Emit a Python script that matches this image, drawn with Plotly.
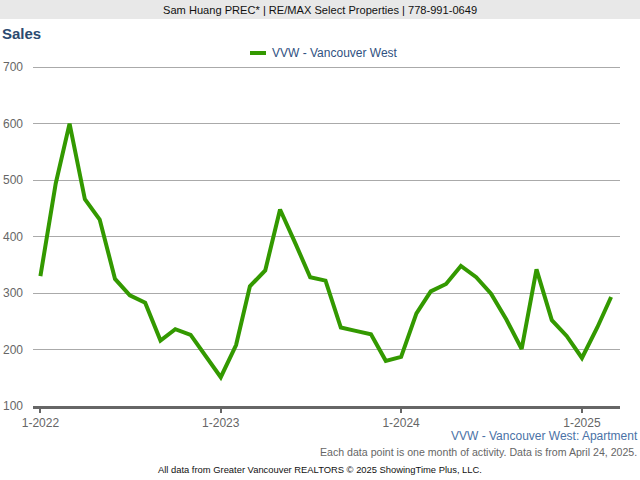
import plotly.graph_objects as go

months = [
    "2022-01-01", "2022-02-01", "2022-03-01", "2022-04-01", "2022-05-01", "2022-06-01",
    "2022-07-01", "2022-08-01", "2022-09-01", "2022-10-01", "2022-11-01", "2022-12-01",
    "2023-01-01", "2023-02-01", "2023-03-01", "2023-04-01", "2023-05-01", "2023-06-01",
    "2023-07-01", "2023-08-01", "2023-09-01", "2023-10-01", "2023-11-01", "2023-12-01",
    "2024-01-01", "2024-02-01", "2024-03-01", "2024-04-01", "2024-05-01", "2024-06-01",
    "2024-07-01", "2024-08-01", "2024-09-01", "2024-10-01", "2024-11-01", "2024-12-01",
    "2025-01-01", "2025-02-01", "2025-03-01",
]
sales = [
    330, 494, 600, 466, 430, 325, 296, 283, 216, 236, 226, 188,
    151, 208, 312, 340, 448, 388, 328, 322, 239, 233, 227, 180,
    187, 264, 303, 316, 348, 328, 299, 253, 201, 342, 252, 224,
    185, 239, 293,
]
series_name = "VVW - Vancouver West"
tick_vals = ["2022-01-01", "2023-01-01", "2024-01-01", "2025-01-01"]
tick_text = ["1-2022", "1-2023", "1-2024", "1-2025"]
y_ticks = [100, 200, 300, 400, 500, 600, 700]

W, H = 640, 480
L, R, T, B = 33, 20, 66, 74
PW, PH = W - L - R, H - T - B

def px(x):
    return (x - L) / PW

def py(y):
    return 1 - (y - T) / PH

FONT = "Liberation Sans, Arial, sans-serif"
GREEN = "#339900"

fig = go.Figure()
fig.add_trace(go.Scatter(
    x=months, y=sales, mode="lines", name=series_name,
    line=dict(color=GREEN, width=4), showlegend=False,
))

fig.update_layout(
    width=W, height=H,
    margin=dict(l=L, r=R, t=T, b=B, pad=0, autoexpand=False),
    paper_bgcolor="white", plot_bgcolor="white",
    font=dict(family=FONT, size=12, color="#666666"),
    xaxis=dict(
        range=["2021-12-17", "2025-03-19"],
        tickvals=tick_vals, ticktext=tick_text,
        showgrid=False, zeroline=False, automargin=False,
        showline=True, linecolor="#666666", linewidth=3,
        ticks="outside", ticklen=4, tickwidth=2, tickcolor="#666666",
        tickfont=dict(family=FONT, size=12, color="#666666"),
        fixedrange=True,
    ),
    yaxis=dict(
        range=[100, 702], tickvals=y_ticks,
        showgrid=True, gridcolor="#aaaaaa", gridwidth=1,
        zeroline=False, showline=False, ticks="", automargin=False,
        ticklabelstandoff=9,
        tickfont=dict(family=FONT, size=12, color="#666666"),
        fixedrange=True,
    ),
    shapes=[
        dict(type="rect", xref="paper", yref="paper",
             x0=px(0), x1=px(W), y0=py(19), y1=py(0),
             fillcolor="#e8e8e8", line=dict(width=0), layer="below"),
        dict(type="line", xref="paper", yref="paper",
             x0=px(250), x1=px(266), y0=py(53), y1=py(53),
             line=dict(color=GREEN, width=4)),
    ],
    annotations=[
        dict(text="Sam Huang PREC* | RE/MAX Select Properties | 778-991-0649",
             xref="paper", yref="paper", x=px(320), y=py(10),
             xanchor="center", yanchor="middle", showarrow=False,
             font=dict(family=FONT, size=11.1, color="#111111")),
        dict(text="<b>Sales</b>", xref="paper", yref="paper",
             x=px(0), y=py(34), xanchor="left", yanchor="middle", showarrow=False,
             font=dict(family=FONT, size=15, color="#2b4a70")),
        dict(text=series_name, xref="paper", yref="paper",
             x=px(270), y=py(53), xanchor="left", yanchor="middle", showarrow=False,
             font=dict(family=FONT, size=12, color="#2f5181")),
        dict(text="VVW - Vancouver West: Apartment", xref="paper", yref="paper",
             x=px(640), y=py(436), xanchor="right", yanchor="middle", showarrow=False,
             font=dict(family=FONT, size=12, color="#4a72a6")),
        dict(text="Each data point is one month of activity. Data is from April 24, 2025.",
             xref="paper", yref="paper",
             x=px(639), y=py(452), xanchor="right", yanchor="middle", showarrow=False,
             font=dict(family=FONT, size=10.6, color="#666666")),
        dict(text="All data from Greater Vancouver REALTORS © 2025 ShowingTime Plus, LLC.",
             xref="paper", yref="paper",
             x=px(320), y=py(469), xanchor="center", yanchor="middle", showarrow=False,
             font=dict(family=FONT, size=9.4, color="#111111")),
    ],
)

fig.write_html("out.html", config={"displayModeBar": False})
